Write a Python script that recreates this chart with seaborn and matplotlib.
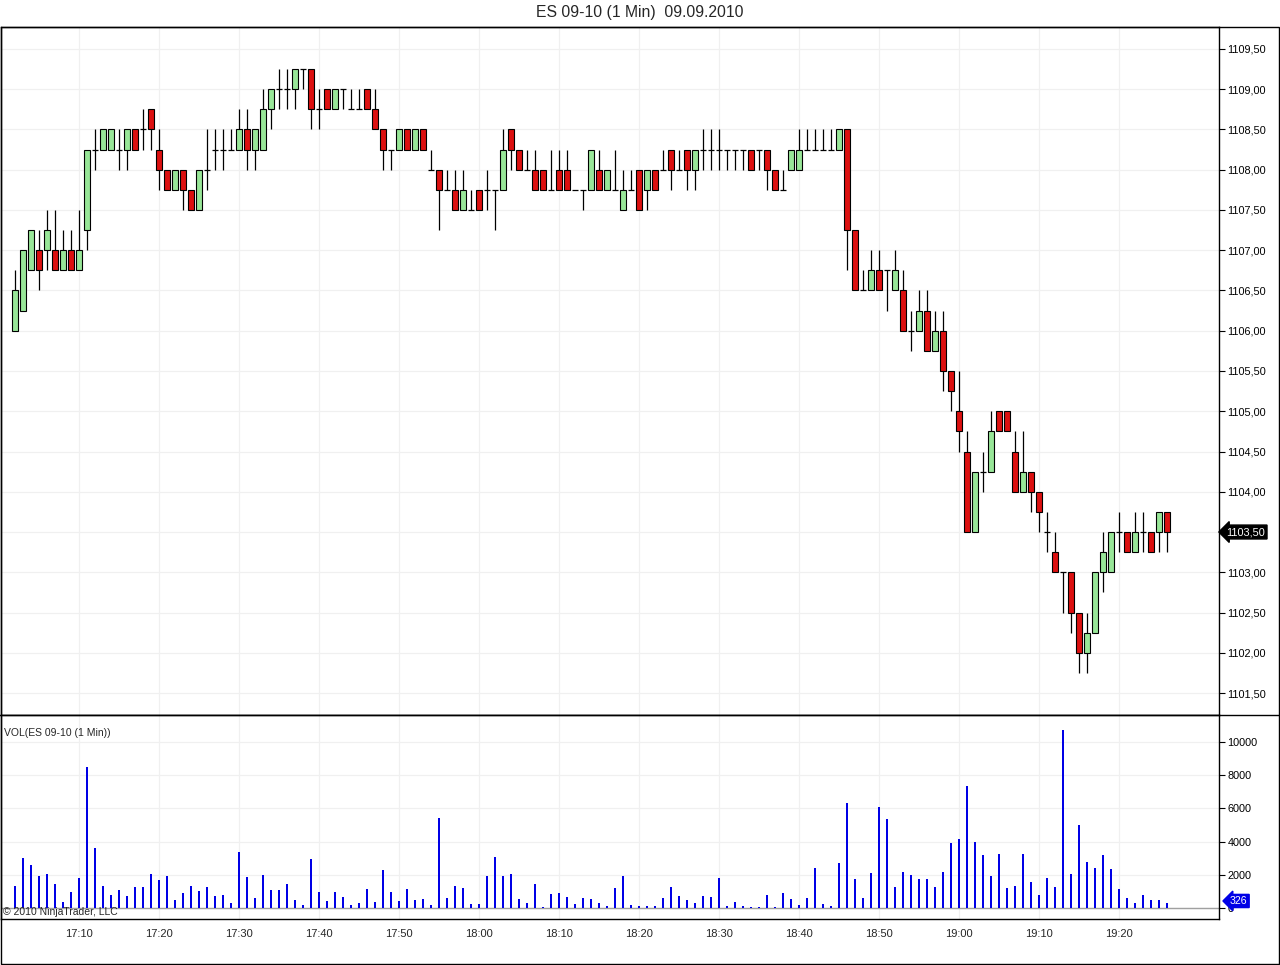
"""
ES 09-10 1-minute candles with volume, 09.09.2010 (NinjaTrader style).
"""
import matplotlib
matplotlib.use("Agg")
import matplotlib.pyplot as plt
from matplotlib.patches import Rectangle
from matplotlib.lines import Line2D
import matplotlib.transforms as mtransforms
import numpy as np
import seaborn as sns

# ── data (bar i = 17:02 + i minutes) ───────────────────────────────────────
opens = [
    1106.00, 1106.25, 1106.75, 1107.00, 1107.00, 1107.00, 1106.75, 1107.00, 1106.75, 1107.25,
    1108.25, 1108.25, 1108.25, 1108.25, 1108.25, 1108.50, 1108.50, 1108.75, 1108.25, 1108.00,
    1107.75, 1108.00, 1107.75, 1107.50, 1108.00, 1108.25, 1108.25, 1108.25, 1108.25, 1108.50,
    1108.25, 1108.25, 1108.75, 1109.00, 1109.00, 1109.00, 1109.25, 1109.25, 1108.75, 1109.00,
    1108.75, 1109.00, 1108.75, 1108.75, 1109.00, 1108.75, 1108.50, 1108.25, 1108.25, 1108.50,
    1108.25, 1108.50, 1108.00, 1108.00, 1107.75, 1107.75, 1107.50, 1107.50, 1107.75, 1107.75,
    1107.75, 1107.75, 1108.50, 1108.25, 1108.00, 1108.00, 1108.00, 1107.75, 1108.00, 1108.00,
    1107.75, 1107.75, 1107.75, 1108.00, 1107.75, 1107.75, 1107.50, 1107.75, 1108.00, 1107.75,
    1108.00, 1108.00, 1108.25, 1108.00, 1108.25, 1108.00, 1108.25, 1108.25, 1108.25, 1108.25,
    1108.25, 1108.25, 1108.25, 1108.25, 1108.25, 1108.00, 1107.75, 1108.00, 1108.00, 1108.25,
    1108.25, 1108.25, 1108.25, 1108.25, 1108.50, 1107.25, 1106.50, 1106.50, 1106.75, 1106.75,
    1106.50, 1106.50, 1106.00, 1106.00, 1106.25, 1105.75, 1106.00, 1105.50, 1105.00, 1104.50,
    1103.50, 1104.25, 1104.25, 1105.00, 1105.00, 1104.50, 1104.00, 1104.25, 1104.00, 1103.50,
    1103.25, 1103.00, 1103.00, 1102.50, 1102.00, 1102.25, 1103.00, 1103.00, 1103.50, 1103.50,
    1103.25, 1103.50, 1103.50, 1103.50, 1103.75,
]
highs = [
    1106.75, 1107.00, 1107.25, 1107.25, 1107.50, 1107.50, 1107.25, 1107.25, 1107.50, 1108.25,
    1108.50, 1108.50, 1108.50, 1108.50, 1108.50, 1108.50, 1108.75, 1108.75, 1108.50, 1108.00,
    1108.00, 1108.00, 1107.75, 1108.00, 1108.50, 1108.50, 1108.50, 1108.50, 1108.75, 1108.75,
    1108.50, 1109.00, 1109.00, 1109.25, 1109.25, 1109.25, 1109.25, 1109.25, 1109.00, 1109.00,
    1109.00, 1109.00, 1109.00, 1109.00, 1109.00, 1109.00, 1108.50, 1108.25, 1108.50, 1108.50,
    1108.50, 1108.50, 1108.25, 1108.00, 1108.00, 1108.00, 1108.00, 1107.75, 1107.75, 1108.00,
    1107.75, 1108.50, 1108.50, 1108.25, 1108.25, 1108.25, 1108.00, 1108.25, 1108.25, 1108.25,
    1107.75, 1107.75, 1108.25, 1108.25, 1108.00, 1108.25, 1108.00, 1108.00, 1108.00, 1108.00,
    1108.00, 1108.25, 1108.25, 1108.25, 1108.25, 1108.25, 1108.50, 1108.50, 1108.50, 1108.25,
    1108.25, 1108.25, 1108.25, 1108.25, 1108.25, 1108.00, 1108.00, 1108.25, 1108.50, 1108.50,
    1108.50, 1108.50, 1108.50, 1108.50, 1108.50, 1107.25, 1106.75, 1107.00, 1107.00, 1106.75,
    1107.00, 1106.75, 1106.25, 1106.50, 1106.50, 1106.25, 1106.25, 1105.50, 1105.50, 1104.75,
    1104.25, 1104.50, 1105.00, 1105.00, 1105.00, 1104.75, 1104.75, 1104.25, 1104.00, 1103.75,
    1103.50, 1103.00, 1103.00, 1102.50, 1102.50, 1103.00, 1103.50, 1103.50, 1103.75, 1103.50,
    1103.75, 1103.75, 1103.50, 1103.75, 1103.75,
]
lows = [
    1106.00, 1106.25, 1106.75, 1106.50, 1106.75, 1106.75, 1106.75, 1106.75, 1106.75, 1107.00,
    1108.00, 1108.25, 1108.25, 1108.00, 1108.00, 1108.25, 1108.25, 1108.25, 1107.75, 1107.75,
    1107.75, 1107.50, 1107.50, 1107.50, 1107.75, 1108.00, 1108.00, 1108.25, 1108.25, 1108.00,
    1108.00, 1108.25, 1108.50, 1108.75, 1108.75, 1108.75, 1109.00, 1108.50, 1108.50, 1108.75,
    1108.75, 1108.75, 1108.75, 1108.75, 1108.75, 1108.50, 1108.00, 1108.00, 1108.25, 1108.25,
    1108.25, 1108.25, 1108.00, 1107.25, 1107.75, 1107.50, 1107.50, 1107.50, 1107.50, 1107.50,
    1107.25, 1107.75, 1108.00, 1108.00, 1108.00, 1107.75, 1107.75, 1107.75, 1107.75, 1107.75,
    1107.75, 1107.50, 1107.75, 1107.75, 1107.75, 1107.75, 1107.50, 1107.75, 1107.50, 1107.50,
    1107.75, 1108.00, 1107.75, 1108.00, 1107.75, 1107.75, 1108.00, 1108.00, 1108.00, 1108.00,
    1108.00, 1108.00, 1108.00, 1108.00, 1107.75, 1107.75, 1107.75, 1108.00, 1108.00, 1108.25,
    1108.25, 1108.25, 1108.25, 1108.25, 1106.75, 1106.50, 1106.50, 1106.50, 1106.50, 1106.25,
    1106.50, 1106.00, 1105.75, 1106.00, 1105.75, 1105.75, 1105.25, 1105.00, 1104.50, 1103.50,
    1103.50, 1104.00, 1104.25, 1104.75, 1104.75, 1104.00, 1104.00, 1103.75, 1103.50, 1103.25,
    1103.00, 1102.50, 1102.25, 1101.75, 1101.75, 1102.25, 1102.75, 1103.00, 1103.25, 1103.25,
    1103.25, 1103.25, 1103.25, 1103.25, 1103.25,
]
closes = [
    1106.50, 1107.00, 1107.25, 1106.75, 1107.25, 1106.75, 1107.00, 1106.75, 1107.00, 1108.25,
    1108.25, 1108.50, 1108.50, 1108.25, 1108.50, 1108.25, 1108.50, 1108.50, 1108.00, 1107.75,
    1108.00, 1107.75, 1107.50, 1108.00, 1108.00, 1108.25, 1108.25, 1108.25, 1108.50, 1108.25,
    1108.50, 1108.75, 1109.00, 1109.00, 1109.00, 1109.25, 1109.25, 1108.75, 1108.75, 1108.75,
    1109.00, 1109.00, 1108.75, 1108.75, 1108.75, 1108.50, 1108.25, 1108.25, 1108.50, 1108.25,
    1108.50, 1108.25, 1108.00, 1107.75, 1107.75, 1107.50, 1107.75, 1107.50, 1107.50, 1107.75,
    1107.75, 1108.25, 1108.25, 1108.00, 1108.00, 1107.75, 1107.75, 1107.75, 1107.75, 1107.75,
    1107.75, 1107.75, 1108.25, 1107.75, 1108.00, 1107.75, 1107.75, 1107.75, 1107.50, 1108.00,
    1107.75, 1108.00, 1108.00, 1108.00, 1108.00, 1108.25, 1108.25, 1108.25, 1108.25, 1108.25,
    1108.25, 1108.25, 1108.00, 1108.25, 1108.00, 1107.75, 1107.75, 1108.25, 1108.25, 1108.25,
    1108.25, 1108.25, 1108.25, 1108.50, 1107.25, 1106.50, 1106.50, 1106.75, 1106.50, 1106.75,
    1106.75, 1106.00, 1106.00, 1106.25, 1105.75, 1106.00, 1105.50, 1105.25, 1104.75, 1103.50,
    1104.25, 1104.25, 1104.75, 1104.75, 1104.75, 1104.00, 1104.25, 1104.00, 1103.75, 1103.50,
    1103.00, 1103.00, 1102.50, 1102.00, 1102.25, 1103.00, 1103.25, 1103.50, 1103.50, 1103.25,
    1103.50, 1103.50, 1103.25, 1103.75, 1103.50,
]
volume = [
    1350, 2990, 2570, 1900, 2020, 1470, 380, 990, 1780, 8500,
    3600, 1350, 810, 1110, 750, 1290, 1290, 2020, 1660, 1900,
    505, 930, 1350, 1050, 1290, 690, 810, 320, 3350, 1840,
    570, 1960, 1110, 1110, 1470, 505, 200, 2930, 990, 440,
    990, 630, 200, 320, 1170, 380, 2260, 990, 440, 1160,
    450, 510, 200, 5440, 570, 1340, 1220, 260, 260, 1910,
    3100, 1910, 2030, 510, 325, 1460, 80, 850, 910, 630,
    260, 570, 510, 325, 140, 1220, 1910, 200, 140, 140,
    140, 570, 1280, 690, 450, 325, 750, 630, 1790, 140,
    385, 140, 80, 80, 810, 80, 930, 510, 200, 610,
    2380, 240, 120, 2690, 6320, 1720, 610, 2080, 6080, 5350,
    1290, 2140, 1960, 1720, 1720, 1290, 2140, 3900, 4140, 7350,
    3960, 3170, 1900, 3230, 1230, 1350, 3230, 1540, 810, 1780,
    1290, 10750, 2020, 4990, 2750, 2380, 3170, 2320, 1170, 610,
    300, 790, 505, 505, 326,
]
time_ticks = [8, 18, 28, 38, 48, 58, 68, 78, 88, 98, 108, 118, 128, 138]
time_labels = ["17:10", "17:20", "17:30", "17:40", "17:50", "18:00", "18:10",
               "18:20", "18:30", "18:40", "18:50", "19:00", "19:10", "19:20"]
price_ticks = [1101.5 + 0.5 * k for k in range(17)]
vol_ticks = [0, 2000, 4000, 6000, 8000, 10000]

TITLE = "ES 09-10 (1 Min)  09.09.2010"
GREEN = "#98e698"
RED = "#dc1010"
GRID = "#f0f0f0"

# ── style ──────────────────────────────────────────────────────────────────
sns.set_style("white")
plt.rcParams["font.family"] = ["Liberation Sans", "DejaVu Sans"]

W, H = 1280, 965
fig = plt.figure(figsize=(W / 100, H / 100), dpi=100)


def px_axes(x0, y0, x1, y1):
    # rectangle given in image pixels (y down)
    return fig.add_axes([x0 / W, 1 - y1 / H, (x1 - x0) / W, (y1 - y0) / H])


ax_p = px_axes(1, 27, 1219, 715)
ax_v = px_axes(1, 715, 1219, 919)

idx = np.arange(len(closes))
o = np.array(opens)
c = np.array(closes)
hi = np.array(highs)
lo = np.array(lows)

# ── price panel ────────────────────────────────────────────────────────────
ax_p.vlines(idx, lo, hi, color="black", lw=0.9, zorder=2)
body = o != c
ax_p.bar(idx[body], np.abs(c - o)[body], bottom=np.minimum(o, c)[body],
         width=0.72, color=np.where(c > o, GREEN, RED)[body],
         edgecolor="black", linewidth=0.8, zorder=3)
ax_p.hlines(c[~body], idx[~body] - 0.32, idx[~body] + 0.32,
            color="black", lw=0.9, zorder=3)

ax_p.set_ylim(1101.227, 1109.773)
ax_p.set_yticks(price_ticks)
ax_p.set_yticklabels([f"{v:.2f}".replace(".", ",") for v in price_ticks])

# ── volume panel ───────────────────────────────────────────────────────────
sns.barplot(x=idx, y=volume, native_scale=True, color="#0000e6", width=0.27,
            saturation=1, errorbar=None, linewidth=0, ax=ax_v, zorder=3)
ax_v.axhline(0, color="#a0a0a0", lw=1.0, zorder=2)
ax_v.set_ylim(-667, 11636)
ax_v.set_yticks(vol_ticks)
ax_v.set_yticklabels([str(v) for v in vol_ticks])
ax_v.set_xlabel("")
ax_v.set_ylabel("")

for ax in (ax_p, ax_v):
    ax.set_xlim(-1.75, 150.5)
    ax.set_xticks(time_ticks)
    ax.grid(True, color=GRID, lw=0.9)
    ax.set_axisbelow(True)
    ax.yaxis.tick_right()
    ax.tick_params(axis="y", direction="out", length=4.5, width=0.8,
                   pad=1.5, labelsize=7.8, colors="black")
    for sp in ax.spines.values():
        sp.set_color("black")
        sp.set_linewidth(1.0)

ax_p.tick_params(axis="x", length=0, labelbottom=False)
ax_v.set_xticklabels(time_labels)
ax_v.tick_params(axis="x", length=0, pad=7, labelsize=8)

# last price / last volume markers
tr_p = mtransforms.blended_transform_factory(ax_p.transAxes, ax_p.transData)
ax_p.text(1.006, closes[-1], f"{closes[-1]:.2f}".replace(".", ","),
          transform=tr_p, color="white", fontsize=7.8, va="center", ha="left",
          clip_on=False, zorder=6,
          bbox=dict(boxstyle="larrow,pad=0.18", fc="black", ec="black"))
tr_v = mtransforms.blended_transform_factory(ax_v.transAxes, ax_v.transData)
ax_v.text(1.009, 420, str(volume[-1]), transform=tr_v, color="white",
          fontsize=7.6, va="center", ha="left", clip_on=False, zorder=6,
          bbox=dict(boxstyle="larrow,pad=0.15", fc="#0000e6", ec="#0000e6"))

# ── frame and texts ────────────────────────────────────────────────────────
fig.add_artist(Rectangle((1 / W, 1 - 964 / H), 1278 / W, 937 / H,
                         transform=fig.transFigure, fill=False,
                         ec="black", lw=1.0))
fig.add_artist(Line2D([0, 1279 / W], [1 - 715 / H] * 2,
                      transform=fig.transFigure, color="black", lw=1.0))

fig.text(0.5, 1 - 13 / H, TITLE, ha="center", va="center", fontsize=11.3)
fig.text(4 / W, 1 - 733 / H, "VOL(ES 09-10 (1 Min))", ha="left",
         va="center", fontsize=7.5)
fig.text(3 / W, 1 - 912 / H, "© 2010 NinjaTrader, LLC", ha="left",
         va="center", fontsize=7.5)

fig.savefig("out.png", dpi=100)
print("saved out.png")
